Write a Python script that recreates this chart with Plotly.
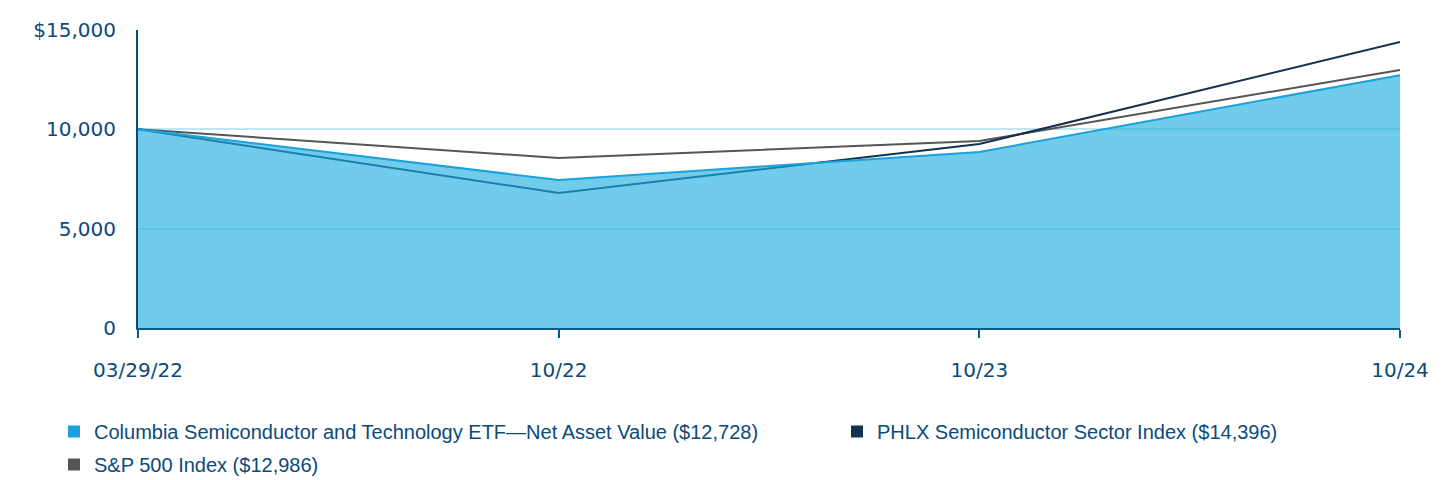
import plotly.graph_objects as go

categories = ["03/29/22", "10/22", "10/23", "10/24"]
fund = [10000, 7450, 8860, 12728]
phlx = [10000, 6795, 9262, 14396]
sp500 = [10000, 8557, 9413, 12986]
names = [
    "Columbia Semiconductor and Technology ETF\u2014Net Asset Value ($12,728)",
    "PHLX Semiconductor Sector Index ($14,396)",
    "S&P 500 Index ($12,986)",
]
y_ticks = [0, 5000, 10000, 15000]
y_labels = ["0", "5,000", "10,000", "$15,000"]

c_fund_line = "#1BA1DC"
c_fund_fill = "rgba(30,175,225,0.63)"
c_phlx = "#14314F"
c_sp = "#555555"
txt = "#0B4A7A"

x = list(range(len(categories)))
fig = go.Figure()
fig.add_trace(go.Scatter(x=x, y=sp500, mode="lines", line=dict(color=c_sp, width=2), showlegend=False, hoverinfo="skip"))
fig.add_trace(go.Scatter(x=x, y=phlx, mode="lines", line=dict(color=c_phlx, width=2), showlegend=False, hoverinfo="skip"))
fig.add_trace(go.Scatter(x=x, y=fund, mode="lines", fill="tozeroy", fillcolor=c_fund_fill,
                         line=dict(color=c_fund_line, width=2), showlegend=False, hoverinfo="skip"))

legend_ids = ["legend", "legend2", "legend"]
for i, (nm, col, lg) in enumerate(zip(names, [c_fund_line, c_phlx, c_sp], legend_ids)):
    fig.add_trace(go.Scatter(x=[None], y=[None], mode="markers", name=nm, legend=lg,
                             legendgroup="g%d" % i,
                             marker=dict(symbol="square", size=16, color=col)))

leg_common = dict(orientation="v", yref="container", xref="container", yanchor="top", xanchor="left",
                  font=dict(family="Liberation Sans, Arial, sans-serif", size=20, color=txt),
                  itemsizing="constant", tracegroupgap=4, bgcolor="rgba(0,0,0,0)")
fig.update_layout(
    width=1452, height=480,
    margin=dict(l=138, r=52, t=30, b=152, autoexpand=False),
    paper_bgcolor="white", plot_bgcolor="white",
    font=dict(family="DejaVu Sans, sans-serif", size=20, color=txt),
    legend=dict(x=54 / 1452, y=(480 - 412) / 480, **leg_common),
    legend2=dict(x=837 / 1452, y=(480 - 412) / 480, **leg_common),
)
fig.update_xaxes(
    range=[0, 3], tickvals=x, ticktext=categories,
    showgrid=False, showline=True, linecolor="#0A5A8A", linewidth=2,
    ticks="outside", ticklen=8, tickcolor="#0A5A8A", tickwidth=1.5,
    ticklabelstandoff=15, zeroline=False,
)
fig.update_yaxes(
    range=[0, 15000], tickvals=y_ticks, ticktext=y_labels,
    showgrid=True, gridcolor="#BFE6F5", gridwidth=2,
    showline=True, linecolor="#0A4A7A", linewidth=2,
    ticks="", ticklabelstandoff=16, zeroline=False,
)
fig.write_html("out.html")
